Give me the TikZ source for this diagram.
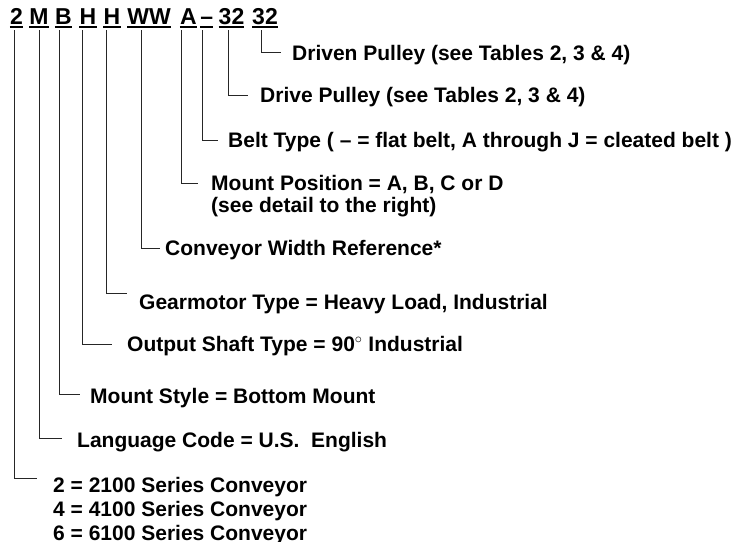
\documentclass[tikz,border=0pt]{standalone}
\usepackage{fontspec}
\setmainfont{Liberation Sans}
\usetikzlibrary{positioning}
\tikzset{
code/.style={font=\fontsize{23}{27}\selectfont\bfseries, inner sep=0pt,
  text height=16pt, text depth=0pt, anchor=base},
lbl/.style={font=\fontsize{21}{25}\selectfont\bfseries, inner sep=0pt,
  text height=15pt, text depth=0pt, anchor=west},
lead/.style={draw=black!85, line width=0.9pt, shorten <=6pt},
uline/.style={line width=1.8pt},
}

\begin{document}
\begin{tikzpicture}[x=1pt,y=-1pt]
	\useasboundingbox (0,0) rectangle (735,541);

	% part number
	\node[code] (cSer)    at (16.5,24)  {2};
	\node[code] (cLang)   at (39,24)    {M};
	\node[code] (cStyle)  at (63.5,24)  {B};
	\node[code] (cShaft)  at (88,24)    {H};
	\node[code] (cGear)   at (112,24)   {H};
	\node[code] (cWidth)  at (149,24)   {WW};
	\node[code] (cPos)    at (188.5,24) {A};
	\node[code] (cBelt)   at (206.7,24) {–};
	\node[code] (cDrive)  at (231.5,24) {32};
	\node[code] (cDriven) at (265,24)   {32};

	\foreach \t in {cSer,cLang,cStyle,cShaft,cGear,cWidth,cPos,cBelt,cDrive,cDriven}
		\draw[uline] ([yshift=-3.3pt]\t.base west) -- ([yshift=-3.3pt]\t.base east);

	% descriptions
	\node[lbl] (driven) at (292,53) {Driven Pulley (see Tables 2, 3 \& 4)};
	\node[lbl] (drive)  at (260,95) {Drive Pulley (see Tables 2, 3 \& 4)};
	\node[lbl] (belt)   at (228,140) {Belt Type ( – = flat belt, A through J = cleated belt )};
	\node[lbl] (pos)    at (211,183) {Mount Position = A, B, C or D};
	\node[lbl,below right=7pt and 0pt of pos.south west] (pos2) {(see detail to the right)};
	\node[lbl] (width)  at (165,248) {Conveyor Width Reference*};
	\node[lbl] (gear)   at (139,302) {Gearmotor Type = Heavy Load, Industrial};
	\node[lbl] (shaft)  at (127,344) {Output Shaft Type = 90$^\circ$ Industrial};
	\node[lbl] (mstyle) at (90,396)  {Mount Style = Bottom Mount};
	\node[lbl] (lang)   at (77,440)  {Language Code = U.S.\ \ English};
	\node[lbl] (ser)    at (53,484.5) {2 = 2100 Series Conveyor};
	\node[lbl,below right=9.5pt and 0pt of ser.south west] (ser2) {4 = 4100 Series Conveyor};
	\node[lbl,below right=8.5pt and 0pt of ser2.south west] (ser3) {6 = 6100 Series Conveyor};

	% leaders
	\foreach \x/\tok/\lbl/\gap/\dy in {
		261.7/cDriven/driven/11/1, 228.3/cDrive/drive/12/0,
		202/cBelt/belt/10/0, 181.7/cPos/pos/13/0,
		141/cWidth/width/5/0, 106/cGear/gear/12/9,
		82.7/cShaft/shaft/15/0, 59.3/cStyle/mstyle/10/2,
		39.3/cLang/lang/15/2, 14.3/cSer/ser/16/6.5}
		\draw[lead,shorten >=\gap pt] (\x,0 |- \tok.south) |- ([yshift=\dy pt]\lbl.west);
\end{tikzpicture}
\end{document}
